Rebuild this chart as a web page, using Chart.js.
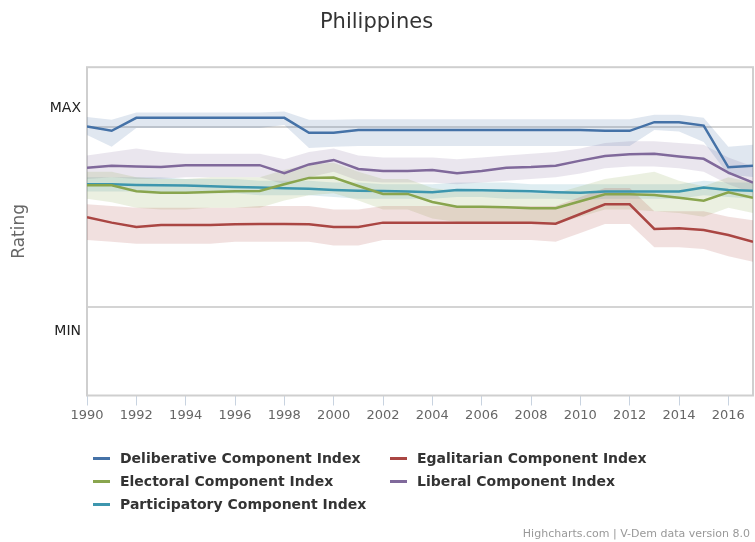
<!DOCTYPE html>
<html>
<head>
<meta charset="utf-8">
<title>Philippines</title>
<script src="https://cdn.jsdelivr.net/npm/chart.js@4.4.1/dist/chart.umd.min.js"></script>
<style>
    html, body { margin: 0; padding: 0; background: #fff; }
    #wrap { position: relative; width: 755px; height: 542px; font-family: "DejaVu Sans", Verdana, sans-serif; }
    #chart { position: absolute; left: 0; top: 0; }
    .legend-item { position: absolute; height: 20px; display: flex; align-items: center; font-size: 14px; font-weight: bold; color: #333; white-space: nowrap; }
    .legend-item .dash { width: 17px; height: 3px; margin-right: 10px; }
    #credits { position: absolute; right: 5px; top: 527px; font-size: 11px; color: #999; white-space: nowrap; }
</style>
</head>
<body>
<div id="wrap">
    <canvas id="chart" width="755" height="542"></canvas>
    <div id="legend"></div>
    <div id="credits">Highcharts.com | V-Dem data version 8.0</div>
</div>
<script>
const years = [1990, 1991, 1992, 1993, 1994, 1995, 1996, 1997, 1998, 1999, 2000, 2001, 2002, 2003,
    2004, 2005, 2006, 2007, 2008, 2009, 2010, 2011, 2012, 2013, 2014, 2015, 2016, 2017];

const seriesNames = [
    "Deliberative Component Index", "Egalitarian Component Index", "Electoral Component Index",
    "Liberal Component Index", "Participatory Component Index"
];
const seriesColors = ['#4572A7', '#AA4643', '#89A54E', '#80699B', '#3D96AE'];

// index estimates, one row per year
const deliberative = [1.002, 0.978, 1.050, 1.050, 1.050, 1.050, 1.050, 1.050, 1.050, 0.967, 0.967, 0.982, 0.982, 0.982,
    0.982, 0.982, 0.982, 0.982, 0.982, 0.982, 0.982, 0.979, 0.978, 1.026, 1.026, 1.007, 0.775, 0.783];
const deliberativeHi = [1.055, 1.039, 1.080, 1.080, 1.080, 1.080, 1.080, 1.080, 1.085, 1.039, 1.039, 1.043, 1.043, 1.043,
    1.043, 1.043, 1.043, 1.043, 1.043, 1.043, 1.043, 1.043, 1.043, 1.067, 1.067, 1.050, 0.889, 0.900];
const deliberativeLo = [0.955, 0.889, 0.993, 0.993, 0.993, 0.993, 0.993, 0.993, 1.011, 0.883, 0.889, 0.894, 0.894, 0.894,
    0.894, 0.894, 0.894, 0.894, 0.894, 0.894, 0.894, 0.894, 0.894, 0.983, 0.974, 0.916, 0.733, 0.721];

const egalitarian = [0.497, 0.467, 0.443, 0.454, 0.454, 0.454, 0.458, 0.460, 0.460, 0.458, 0.443, 0.443, 0.467, 0.467,
    0.467, 0.467, 0.467, 0.467, 0.467, 0.461, 0.515, 0.569, 0.569, 0.432, 0.436, 0.426, 0.398, 0.361];
const egalitarianHi = [0.57, 0.56, 0.55, 0.55, 0.55, 0.55, 0.55, 0.56, 0.56, 0.56, 0.54, 0.54, 0.56, 0.56,
    0.56, 0.56, 0.56, 0.56, 0.56, 0.56, 0.61, 0.66, 0.66, 0.53, 0.53, 0.53, 0.50, 0.48];
const egalitarianLo = [0.37, 0.36, 0.35, 0.35, 0.35, 0.35, 0.36, 0.36, 0.36, 0.36, 0.34, 0.34, 0.37, 0.37,
    0.37, 0.37, 0.37, 0.37, 0.37, 0.36, 0.41, 0.46, 0.46, 0.33, 0.33, 0.32, 0.28, 0.25];

const electoral = [0.675, 0.675, 0.642, 0.634, 0.634, 0.638, 0.642, 0.643, 0.681, 0.716, 0.718, 0.671, 0.627, 0.627,
    0.582, 0.556, 0.556, 0.553, 0.547, 0.547, 0.586, 0.625, 0.625, 0.621, 0.606, 0.589, 0.636, 0.606];
const electoralHi = [0.75, 0.75, 0.72, 0.71, 0.71, 0.72, 0.72, 0.72, 0.76, 0.79, 0.80, 0.75, 0.71, 0.71,
    0.66, 0.64, 0.64, 0.64, 0.63, 0.63, 0.67, 0.71, 0.73, 0.75, 0.70, 0.67, 0.72, 0.69];
const electoralLo = [0.60, 0.58, 0.55, 0.54, 0.54, 0.55, 0.55, 0.55, 0.59, 0.62, 0.63, 0.59, 0.54, 0.54,
    0.49, 0.47, 0.47, 0.47, 0.46, 0.46, 0.50, 0.54, 0.54, 0.53, 0.52, 0.50, 0.55, 0.52];

const liberal = [0.772, 0.784, 0.779, 0.776, 0.787, 0.787, 0.787, 0.787, 0.742, 0.791, 0.816, 0.766, 0.755, 0.755,
    0.760, 0.742, 0.755, 0.773, 0.776, 0.784, 0.812, 0.838, 0.848, 0.850, 0.835, 0.822, 0.745, 0.690];
const liberalHi = [0.84, 0.86, 0.88, 0.86, 0.85, 0.85, 0.85, 0.85, 0.82, 0.86, 0.88, 0.84, 0.83, 0.83,
    0.83, 0.82, 0.83, 0.84, 0.85, 0.86, 0.88, 0.91, 0.92, 0.92, 0.91, 0.90, 0.83, 0.78];
const liberalLo = [0.71, 0.72, 0.71, 0.71, 0.72, 0.72, 0.72, 0.72, 0.68, 0.72, 0.75, 0.70, 0.69, 0.69,
    0.69, 0.68, 0.69, 0.70, 0.71, 0.72, 0.74, 0.77, 0.78, 0.78, 0.77, 0.75, 0.68, 0.63];

const participatory = [0.681, 0.681, 0.677, 0.675, 0.673, 0.670, 0.666, 0.662, 0.659, 0.655, 0.649, 0.645, 0.643, 0.640,
    0.636, 0.649, 0.647, 0.645, 0.641, 0.636, 0.634, 0.640, 0.640, 0.640, 0.640, 0.662, 0.649, 0.645];
const participatoryHi = [0.72, 0.72, 0.72, 0.72, 0.71, 0.71, 0.71, 0.70, 0.70, 0.70, 0.69, 0.69, 0.68, 0.68,
    0.68, 0.69, 0.69, 0.69, 0.68, 0.68, 0.68, 0.68, 0.68, 0.68, 0.68, 0.70, 0.69, 0.69];
const participatoryLo = [0.64, 0.64, 0.64, 0.63, 0.63, 0.63, 0.63, 0.62, 0.62, 0.62, 0.61, 0.60, 0.60, 0.60,
    0.60, 0.61, 0.61, 0.60, 0.60, 0.60, 0.59, 0.60, 0.60, 0.60, 0.60, 0.62, 0.61, 0.60];

const seriesValues = [deliberative, egalitarian, electoral, liberal, participatory];
const seriesHi = [deliberativeHi, egalitarianHi, electoralHi, liberalHi, participatoryHi];
const seriesLo = [deliberativeLo, egalitarianLo, electoralLo, liberalLo, participatoryLo];

// y axis: two grid lines, and the MAX / MIN captions sitting off them
const yRange = [-0.495, 1.332];
const yGridValues = [0, 1];
const yLabelValues = [1.104, -0.14];
const yLabelText = ["MAX", "MIN"];

const FONT = '"DejaVu Sans", Verdana, sans-serif';

function toPoints(vals) {
    return vals.map((v, i) => ({ x: years[i], y: v }));
}

function hexToRgba(hex, a) {
    const n = parseInt(hex.slice(1), 16);
    return `rgba(${(n >> 16) & 255}, ${(n >> 8) & 255}, ${n & 255}, ${a})`;
}

const datasets = [];

// lines first so they are painted above the bands
seriesNames.forEach((name, i) => {
    datasets.push({
        label: name,
        data: toPoints(seriesValues[i]),
        borderColor: seriesColors[i],
        backgroundColor: seriesColors[i],
        borderWidth: 2.5,
        pointRadius: 0,
        tension: 0,
        fill: false
    });
});

seriesNames.forEach((name, i) => {
    datasets.push({
        label: name + " (upper)",
        data: toPoints(seriesHi[i]),
        borderWidth: 0,
        borderColor: 'rgba(0,0,0,0)',
        backgroundColor: hexToRgba(seriesColors[i], 0.17),
        pointRadius: 0,
        tension: 0,
        fill: '+1'
    });
    datasets.push({
        label: name + " (lower)",
        data: toPoints(seriesLo[i]),
        borderWidth: 0,
        borderColor: 'rgba(0,0,0,0)',
        pointRadius: 0,
        tension: 0,
        fill: false
    });
});

const plotBorder = {
    id: 'plotBorder',
    beforeDatasetsDraw(chart) {
        const { ctx, chartArea: a } = chart;
        ctx.save();
        ctx.strokeStyle = '#cfcfcf';
        ctx.lineWidth = 2;
        ctx.strokeRect(a.left, a.top, a.right - a.left, a.bottom - a.top);
        ctx.restore();
    }
};

new Chart(document.getElementById('chart'), {
    type: 'line',
    data: { datasets },
    plugins: [plotBorder],
    options: {
        responsive: false,
        animation: false,
        layout: { padding: { left: 0, right: 2, top: 0, bottom: 116.5 } },
        plugins: {
            legend: { display: false },
            tooltip: { enabled: false },
            title: {
                display: true,
                text: 'Philippines',
                color: '#333',
                font: { family: FONT, size: 21, weight: 'normal' },
                padding: { top: 10, bottom: 32 }
            }
        },
        scales: {
            x: {
                type: 'linear',
                min: years[0],
                max: years[years.length - 1],
                border: { display: false },
                grid: { drawOnChartArea: false, drawTicks: true, tickLength: 10, color: '#c8d3e0', lineWidth: 1 },
                ticks: {
                    stepSize: 2,
                    includeBounds: false,
                    padding: 2,
                    color: '#666',
                    font: { family: FONT, size: 13 },
                    maxRotation: 0,
                    callback: v => String(v)
                },
                afterFit: s => { s.height = 30; }
            },
            y: {
                min: yRange[0],
                max: yRange[1],
                border: { display: false },
                afterBuildTicks: s => {
                    s.ticks = yGridValues.concat(yLabelValues).map(v => ({ value: v }));
                },
                grid: {
                    drawTicks: false,
                    lineWidth: 2,
                    color: ctx => (ctx.tick && yGridValues.includes(ctx.tick.value)) ? '#d4d4d4' : 'rgba(0,0,0,0)'
                },
                ticks: {
                    padding: 6,
                    color: '#222',
                    font: { family: FONT, size: 14 },
                    callback: v => {
                        const k = yLabelValues.indexOf(v);
                        return k >= 0 ? yLabelText[k] : '';
                    }
                },
                title: {
                    display: true,
                    text: 'Rating',
                    color: '#666',
                    font: { family: FONT, size: 17 },
                    padding: { top: 9, bottom: 0 }
                },
                afterFit: s => { s.width = 87; }
            }
        }
    }
});

// legend laid out as two columns, like the original chart
const legendEl = document.getElementById('legend');
const legendCols = [93, 390];
const legendRows = [458, 481, 504];
seriesNames.forEach((name, i) => {
    const item = document.createElement('div');
    item.className = 'legend-item';
    item.style.left = legendCols[i % 2] + 'px';
    item.style.top = (legendRows[Math.floor(i / 2)] - 10) + 'px';
    item.innerHTML = `<span class="dash" style="background:${seriesColors[i]}"></span><span>${name}</span>`;
    legendEl.appendChild(item);
});
</script>
</body>
</html>
